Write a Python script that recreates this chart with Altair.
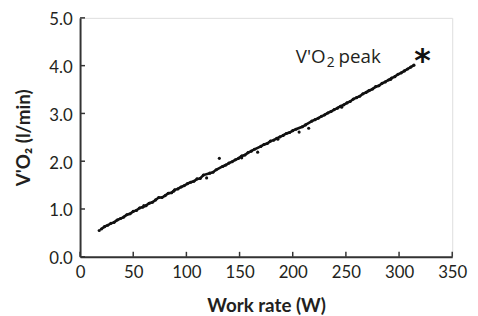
import altair as alt
import pandas as pd

work_rate = [20, 23, 26, 29, 32, 35, 38, 41, 44, 47, 50, 53, 56, 59, 62, 65, 68, 71, 74, 77,
             80, 83, 86, 89, 92, 95, 98, 101, 104, 107, 110, 113, 116, 122, 125, 128,
             134, 137, 140, 143, 146, 149, 152, 155, 158, 161, 164, 170, 173, 176, 179,
             182, 185, 188, 191, 194, 197, 200, 203, 209, 212, 218, 221, 224, 227, 230,
             233, 236, 239, 242, 245, 248, 251, 254, 257, 260, 263, 266, 269, 272, 275,
             278, 281, 284, 287, 290, 293, 296, 299, 302, 305, 308, 311, 314]
vo2 = [0.58, 0.63, 0.66, 0.70, 0.72, 0.77, 0.80, 0.83, 0.88, 0.90, 0.95, 0.97, 1.02, 1.04, 1.07,
       1.12, 1.14, 1.19, 1.24, 1.24, 1.28, 1.33, 1.34, 1.40, 1.42, 1.46, 1.49, 1.53, 1.56, 1.58,
       1.63, 1.64, 1.71, 1.75, 1.77, 1.82, 1.89, 1.92, 1.96, 1.99, 2.03, 2.06, 2.11, 2.13, 2.18,
       2.21, 2.25, 2.31, 2.35, 2.37, 2.42, 2.44, 2.48, 2.51, 2.54, 2.58, 2.60, 2.64, 2.67, 2.72,
       2.76, 2.84, 2.87, 2.90, 2.94, 2.97, 3.01, 3.04, 3.08, 3.11, 3.15, 3.18, 3.22, 3.25, 3.30,
       3.33, 3.36, 3.41, 3.44, 3.48, 3.51, 3.56, 3.58, 3.63, 3.66, 3.70, 3.74, 3.77, 3.82, 3.85,
       3.89, 3.93, 3.97, 4.01]

scatter_x = [119, 131, 167, 206, 215, 60, 88, 152, 186, 246, 271, 292, 18]
scatter_y = [1.65, 2.06, 2.19, 2.61, 2.69, 1.07, 1.37, 2.07, 2.46, 3.13, 3.47, 3.71, 0.55]

peak_x = [322]
peak_y = [4.18]

label_x = 231
label_y = 4.05
label_parts = ["V'O", "2", "peak"]

x_ticks = [0, 50, 100, 150, 200, 250, 300, 350]
y_ticks = [0.0, 1.0, 2.0, 3.0, 4.0, 5.0]

W, H = 377, 242
FONT = "Lato"
LFONT = "Open Sans"
INK = "#231f20"

main = pd.DataFrame({"x": work_rate, "y": vo2})
pts = pd.DataFrame({"x": work_rate + scatter_x, "y": vo2 + scatter_y})
peak = pd.DataFrame({"x": peak_x, "y": peak_y})
lab = pd.DataFrame({"x": [label_x], "y": [label_y]})

xs = alt.Scale(domain=[0, 350], nice=False)
ys = alt.Scale(domain=[0, 5], nice=False)

xax = alt.Axis(values=x_ticks, ticks=False, grid=False, domainColor="#333", domainWidth=2,
               labelFont=FONT, labelFontSize=17, labelColor=INK, labelPadding=8,
               title="Work rate (W)", titleFont=FONT, titleFontSize=19, titleFontWeight="bold",
               titleColor=INK, titlePadding=16, labelFlush=False)
yax = alt.Axis(values=y_ticks, ticks=False, grid=False, domainColor="#333", domainWidth=2,
               format=".1f", labelFont=FONT, labelFontSize=17, labelColor=INK, labelPadding=8,
               labelOffset=2,
               title="V'O₂ (l/min)", titleFont=FONT, titleFontSize=19, titleFontWeight="bold",
               titleColor=INK, titlePadding=15, labelFlush=False)

line = alt.Chart(main).mark_line(color="#111", strokeWidth=2.6).encode(
    x=alt.X("x:Q", scale=xs, axis=xax),
    y=alt.Y("y:Q", scale=ys, axis=yax),
)
dots = alt.Chart(pts).mark_circle(color="#111", size=10, opacity=1).encode(
    x=alt.X("x:Q", scale=xs), y=alt.Y("y:Q", scale=ys)
)
star = alt.Chart(peak).mark_text(text="*", font="DejaVu Sans", fontSize=32, fontWeight="bold",
                                 color="#111", baseline="middle", dy=4).encode(
    x=alt.X("x:Q", scale=xs), y=alt.Y("y:Q", scale=ys)
)
enc = dict(x=alt.X("x:Q", scale=xs), y=alt.Y("y:Q", scale=ys))
l1 = alt.Chart(lab).mark_text(text=label_parts[0], font=LFONT, fontSize=19, color=INK,
                              align="right", baseline="alphabetic").encode(**enc)
l2 = alt.Chart(lab).mark_text(text=label_parts[1], font=LFONT, fontSize=14, color=INK,
                              align="left", baseline="alphabetic", dx=1, dy=4).encode(**enc)
l3 = alt.Chart(lab).mark_text(text=label_parts[2], font=LFONT, fontSize=19, color=INK,
                              align="left", baseline="alphabetic", dx=13).encode(**enc)

xt = alt.Chart(pd.DataFrame({"t": x_ticks})).mark_rule(color="#333", strokeWidth=1.5).encode(
    x=alt.X("t:Q", scale=xs), y=alt.value(H), y2=alt.value(H - 5)
)
yt = alt.Chart(pd.DataFrame({"t": y_ticks})).mark_rule(color="#333", strokeWidth=1.5).encode(
    y=alt.Y("t:Q", scale=ys), x=alt.value(0), x2=alt.value(5)
)

chart = alt.layer(line, dots, xt, yt, star, l1, l2, l3).properties(
    width=W, height=H,
    autosize=alt.AutoSizeParams(type="none"),
    padding={"left": 73, "top": 8, "right": 18, "bottom": 58},
).configure_view(stroke=None).configure(background="white")

chart.save("out.html", embed_options={"renderer": "svg", "actions": False})
